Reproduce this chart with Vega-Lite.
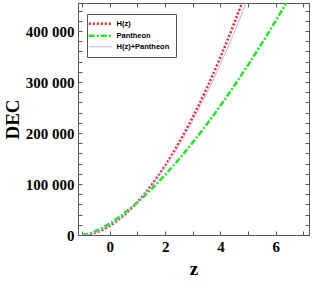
{
  "$schema": "https://vega.github.io/schema/vega-lite/v6.json",
  "width": 231,
  "height": 232,
  "autosize": {"type": "none"},
  "padding": {"left": 78, "top": 3, "right": 4, "bottom": 47},
  "background": "white",
  "config": {
    "view": {"stroke": "#555555", "strokeWidth": 1},
    "axis": {"grid": false, "domainColor": "#555555", "tickColor": "#555555", "labelFont": "Liberation Serif", "labelFontWeight": "bold", "labelFontSize": 15, "labelColor": "black", "titleFont": "Liberation Serif", "titleFontWeight": "bold", "titleFontSize": 19, "titleColor": "black"}
  },
  "data": {"values": [
    {"z": -1, "v": 0, "s": "H(z)"},
    {"z": -0.75, "v": 1408, "s": "H(z)"},
    {"z": -0.5, "v": 5041, "s": "H(z)"},
    {"z": -0.25, "v": 10631, "s": "H(z)"},
    {"z": 0, "v": 18050, "s": "H(z)"},
    {"z": 0.5, "v": 38067, "s": "H(z)"},
    {"z": 1, "v": 64619, "s": "H(z)"},
    {"z": 1.5, "v": 97434, "s": "H(z)"},
    {"z": 2, "v": 136259, "s": "H(z)"},
    {"z": 2.5, "v": 180969, "s": "H(z)"},
    {"z": 3, "v": 231365, "s": "H(z)"},
    {"z": 3.5, "v": 287320, "s": "H(z)"},
    {"z": 4, "v": 348816, "s": "H(z)"},
    {"z": 4.5, "v": 415692, "s": "H(z)"},
    {"z": 5, "v": 487892, "s": "H(z)"},
    {"z": -1, "v": 0, "s": "Pantheon"},
    {"z": -0.75, "v": 2838, "s": "Pantheon"},
    {"z": -0.5, "v": 8026, "s": "Pantheon"},
    {"z": -0.25, "v": 14744, "s": "Pantheon"},
    {"z": 0, "v": 22700, "s": "Pantheon"},
    {"z": 0.5, "v": 41703, "s": "Pantheon"},
    {"z": 1, "v": 64205, "s": "Pantheon"},
    {"z": 1.5, "v": 89729, "s": "Pantheon"},
    {"z": 2, "v": 117953, "s": "Pantheon"},
    {"z": 2.5, "v": 148637, "s": "Pantheon"},
    {"z": 3, "v": 181600, "s": "Pantheon"},
    {"z": 3.5, "v": 216692, "s": "Pantheon"},
    {"z": 4, "v": 253793, "s": "Pantheon"},
    {"z": 4.5, "v": 292807, "s": "Pantheon"},
    {"z": 5, "v": 333629, "s": "Pantheon"},
    {"z": 5.5, "v": 376216, "s": "Pantheon"},
    {"z": 6, "v": 420404, "s": "Pantheon"},
    {"z": 6.5, "v": 466258, "s": "Pantheon"},
    {"z": -1, "v": 0, "s": "H(z)+Pantheon"},
    {"z": -0.75, "v": 1526, "s": "H(z)+Pantheon"},
    {"z": -0.5, "v": 5313, "s": "H(z)+Pantheon"},
    {"z": -0.25, "v": 11022, "s": "H(z)+Pantheon"},
    {"z": 0, "v": 18500, "s": "H(z)+Pantheon"},
    {"z": 0.5, "v": 38386, "s": "H(z)+Pantheon"},
    {"z": 1, "v": 64421, "s": "H(z)+Pantheon"},
    {"z": 1.5, "v": 96267, "s": "H(z)+Pantheon"},
    {"z": 2, "v": 133657, "s": "H(z)+Pantheon"},
    {"z": 2.5, "v": 176401, "s": "H(z)+Pantheon"},
    {"z": 3, "v": 224331, "s": "H(z)+Pantheon"},
    {"z": 3.5, "v": 277297, "s": "H(z)+Pantheon"},
    {"z": 4, "v": 335202, "s": "H(z)+Pantheon"},
    {"z": 4.5, "v": 397972, "s": "H(z)+Pantheon"},
    {"z": 5, "v": 465460, "s": "H(z)+Pantheon"}
  ]},
  "layer": [
    {
      "mark": {"type": "line", "clip": true, "interpolate": "monotone"},
      "encoding": {
        "x": {"field": "z", "type": "quantitative", "scale": {"domain": [-1.15, 7.2], "nice": false, "zero": false},
          "axis": {"orient": "bottom", "title": "z", "values": [-1, 0, 1, 2, 3, 4, 5, 6, 7], "tickSize": -4, "labelPadding": 8, "titlePadding": 5, "labelExpr": "datum.value % 2 == 0 ? datum.label : ''"}},
        "y": {"field": "v", "type": "quantitative", "scale": {"domain": [0, 455000], "nice": false},
          "axis": {"orient": "left", "title": "DEC", "values": [0, 20000, 40000, 60000, 80000, 100000, 120000, 140000, 160000, 180000, 200000, 220000, 240000, 260000, 280000, 300000, 320000, 340000, 360000, 380000, 400000, 420000, 440000], "tickSize": -4, "labelPadding": 8, "titlePadding": 3, "labelExpr": "datum.value % 100000 == 0 ? replace(format(datum.value, ','), ',', ' ') : ''"}},
        "color": {"field": "s", "type": "nominal", "sort": ["H(z)", "Pantheon", "H(z)+Pantheon"],
          "scale": {"domain": ["H(z)", "Pantheon", "H(z)+Pantheon"], "range": ["#ff1f1f", "#22e622", "#a8acff"]},
          "legend": {"title": null, "orient": "none", "legendX": 9, "legendY": 11, "symbolType": "M-2,0H3.75", "symbolSize": 64, "labelOffset": 16, "labelFont": "Liberation Sans", "labelFontWeight": "bold", "labelFontSize": 7.5, "labelColor": "black", "rowPadding": 1, "strokeColor": "#555555", "fillColor": "white", "padding": 6, "labelLimit": 120,
            "encode": {"symbols": {"update": {"strokeWidth": {"signal": "datum.label == 'H(z)+Pantheon' ? 1 : 2.5"}}}}}},
        "strokeDash": {"field": "s", "type": "nominal", "sort": ["H(z)", "Pantheon", "H(z)+Pantheon"],
          "scale": {"domain": ["H(z)", "Pantheon", "H(z)+Pantheon"], "range": [[2, 2], [6, 2, 2, 2], [1, 0]]},
          "legend": {"title": null, "orient": "none", "legendX": 9, "legendY": 11, "symbolType": "M-2,0H3.75", "symbolSize": 64, "labelOffset": 16, "labelFont": "Liberation Sans", "labelFontWeight": "bold", "labelFontSize": 7.5, "labelColor": "black", "rowPadding": 1, "strokeColor": "#555555", "fillColor": "white", "padding": 6, "labelLimit": 120,
            "encode": {"symbols": {"update": {"strokeWidth": {"signal": "datum.label == 'H(z)+Pantheon' ? 1 : 2.5"}}}}}},
        "strokeWidth": {"condition": {"test": "datum.s == 'H(z)+Pantheon'", "value": 1}, "value": 2.5}
      }
    },
    {
      "mark": {"type": "line", "opacity": 0},
      "encoding": {
        "x": {"field": "z", "type": "quantitative", "scale": {"domain": [-1.15, 7.2], "nice": false, "zero": false},
          "axis": {"orient": "top", "title": null, "values": [-1, 0, 1, 2, 3, 4, 5, 6, 7], "tickSize": -4, "labels": false}},
        "y": {"field": "v", "type": "quantitative", "scale": {"domain": [0, 455000], "nice": false},
          "axis": {"orient": "right", "title": null, "values": [0, 20000, 40000, 60000, 80000, 100000, 120000, 140000, 160000, 180000, 200000, 220000, 240000, 260000, 280000, 300000, 320000, 340000, 360000, 380000, 400000, 420000, 440000], "tickSize": -4, "labels": false}}
      }
    }
  ],
  "resolve": {"axis": {"x": "independent", "y": "independent"}}
}
